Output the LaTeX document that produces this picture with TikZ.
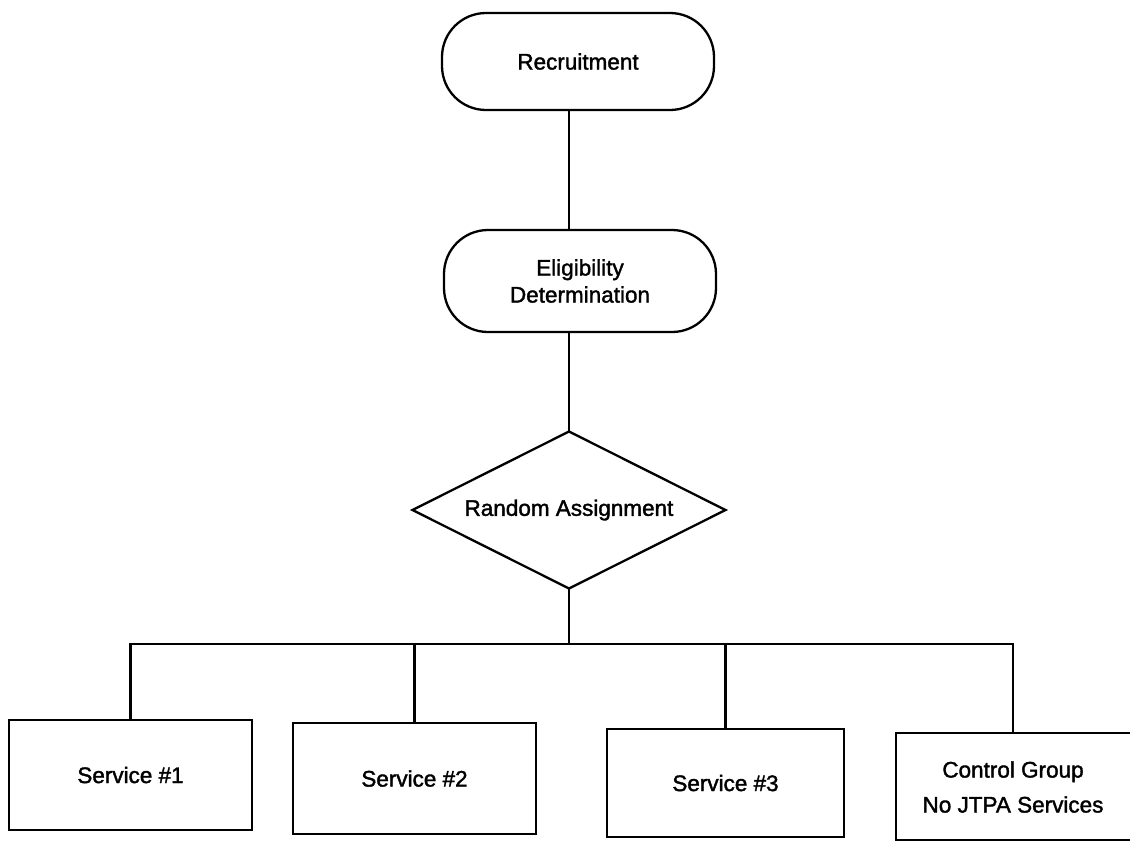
\documentclass[tikz,border=0pt]{standalone}
\usepackage{fontspec}
\setmainfont{Liberation Sans}[FakeBold=1.6]
\usetikzlibrary{shapes.geometric}
\begin{document}
\begin{tikzpicture}[x=1pt,y=-1pt, line width=2.3pt,
  every node/.style={font=\fontsize{22.5}{27}\selectfont},
  stadium/.style={draw, rectangle, rounded corners=44pt, minimum width=272pt, inner sep=0pt, outer sep=0pt, align=center},
  decision/.style={draw, diamond, shape aspect=2, minimum width=313pt, minimum height=157pt, inner sep=0pt, outer sep=0pt},
  svcbox/.style={draw, rectangle, inner sep=0pt, outer sep=0pt, align=center},
  plain/.style={inner sep=0pt, outer sep=0pt, align=center}]
\useasboundingbox (0,0) rectangle (1130,841);
\fill[white] (0,0) rectangle (1130,841);
\clip (0,0) rectangle (1130,841);
% top column
\node[stadium, minimum height=97pt] (rec) at (578,61.5) {Recruitment};
\node[stadium, minimum height=102pt] (elig) at (580,281) {Eligibility\\Determination};
\node[decision] (ra) at (569,510) {Random Assignment};
% bottom boxes
\node[svcbox, minimum width=243pt, minimum height=110pt] (s1) at (130.5,775) {Service \#1};
\node[svcbox, minimum width=243pt, minimum height=111pt] (s2) at (414.5,778.5) {Service \#2};
\node[svcbox, minimum width=237pt, minimum height=108pt] (s3) at (725.5,783) {Service \#3};
\node[svcbox, minimum width=254pt, minimum height=107pt] (ctrl) at (1023,786.5) {};
\node[plain] (ctrltext) at (1013,787) {Control Group\\[8pt]No JTPA Services};
\coordinate (bus) at (569,644);
% connectors
\draw (ra.north |- rec.south) -- (ra.north |- elig.north);
\draw (ra.north |- elig.south) -- (ra.north);
\draw (ra.south) -- (bus);
\draw (s1.north) |- (bus) -| (ctrltext.north |- ctrl.north);
\draw (s2.north) -- (s2.north |- bus);
\draw (s3.north) -- (s3.north |- bus);
\end{tikzpicture}
\end{document}
